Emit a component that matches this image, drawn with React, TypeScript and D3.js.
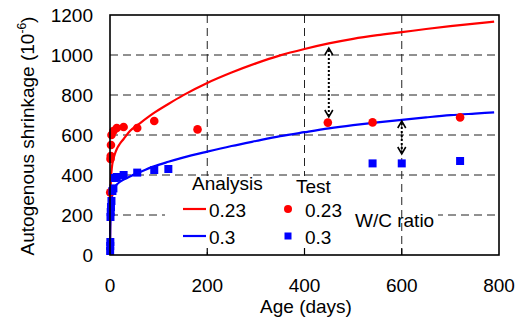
import React from "react";
import * as d3 from "d3";

// analysis curves (age in days, shrinkage in 1e-6)
const analysisAges = [0, 0.5, 1, 2, 4, 7, 10, 14, 20, 28, 41, 60, 89, 120, 150, 200, 250, 300, 350, 400, 450, 500, 550, 600, 650, 700, 750, 790];
const analysis023 = [0, 200, 300, 380, 440, 480, 505, 530, 555, 580, 620, 656, 708, 755, 798, 860, 912, 958, 998, 1030, 1058, 1081, 1099, 1114, 1130, 1144, 1157, 1167];
const analysis030 = [0, 120, 180, 240, 290, 320, 340, 352, 365, 377, 393, 413, 442, 466, 487, 517, 545, 570, 594, 614, 633, 649, 663, 676, 688, 699, 707, 713];

// test results
const testAges023 = [0.5, 1, 1.5, 2, 3, 7, 14, 28, 56, 91, 180, 448, 540, 720];
const test023 = [313, 480, 495, 550, 600, 620, 635, 640, 635, 670, 628, 662, 663, 688];
const testAges030 = [0.3, 0.5, 0.7, 1, 1.5, 2, 3, 5, 7, 10, 14, 28, 56, 91, 120, 540, 600, 720];
const test030 = [20, 45, 65, 190, 215, 240, 270, 320, 333, 385, 390, 400, 412, 425, 430, 458, 458, 470];

// difference arrows
const arrowAges = [450, 600];
const arrowTops = [1035, 670];
const arrowBottoms = [690, 505];

const xTicks = [0, 200, 400, 600, 800];
const yTicks = [0, 200, 400, 600, 800, 1000, 1200];

const font = "'Liberation Sans', Arial, sans-serif";

export default function App() {
  const left = 110,
    right = 499,
    top = 15,
    bottom = 255;

  const x = d3.scaleLinear().domain([0, 800]).range([left, right]);
  const y = d3.scaleLinear().domain([0, 1200]).range([bottom, top]);

  const line = d3
    .line<[number, number]>()
    .x((d) => x(d[0]))
    .y((d) => y(d[1]))
    .curve(d3.curveMonotoneX);

  const path023 = line(analysisAges.map((a, i) => [a, analysis023[i]]));
  const path030 = line(analysisAges.map((a, i) => [a, analysis030[i]]));

  // legend box area (hides grid behind it)
  const legendTop = 176;

  return (
    <svg
      width={522}
      height={320}
      style={{ position: "absolute", left: 0, top: 0, background: "#fff" }}
      fontFamily={font}
    >
      {/* horizontal grid */}
      <g>
        {yTicks
          .filter((t) => t > 0 && t < 1200)
          .map((t) => (
            <line
              key={"h" + t}
              x1={left}
              x2={right}
              y1={y(t)}
              y2={y(t)}
              stroke="#222"
              strokeWidth={1}
              strokeDasharray="8,5"
            />
          ))}
      </g>
      {/* W/C ratio background */}
      <rect x={350} y={legendTop} width={88} height={76} fill="#fff" />
      {/* vertical grid */}
      <g>
        {xTicks
          .filter((t) => t > 0 && t < 800)
          .map((t) => (
            <line
              key={"v" + t}
              x1={x(t)}
              x2={x(t)}
              y1={top}
              y2={bottom}
              stroke="#222"
              strokeWidth={1}
              strokeDasharray="8,5"
            />
          ))}
      </g>
      {/* legend background */}
      <rect x={165} y={legendTop} width={185} height={76} fill="#fff" />

      {/* ticks */}
      <g stroke="#000" strokeWidth={1.2}>
        {xTicks
          .filter((t) => t > 0 && t < 800)
          .map((t) => (
            <line key={"xt" + t} x1={x(t)} x2={x(t)} y1={bottom} y2={bottom - 7} />
          ))}
      </g>

      {/* curves */}
      <path d={path023 || ""} fill="none" stroke="#ff0000" strokeWidth={2.2} />
      <path d={path030 || ""} fill="none" stroke="#0000ff" strokeWidth={2.2} />

      {/* test points */}
      <g fill="#ff0000">
        {testAges023.map((a, i) => (
          <circle key={"r" + i} cx={x(a)} cy={y(test023[i])} r={4.3} />
        ))}
      </g>
      <g fill="#0000ff">
        {testAges030.map((a, i) => (
          <rect key={"b" + i} x={x(a) - 4} y={y(test030[i]) - 4} width={8} height={8} />
        ))}
      </g>

      {/* arrows */}
      <g stroke="#000" fill="none" strokeWidth={2}>
        {arrowAges.map((a, i) => {
          const ax = x(a),
            y1 = y(arrowTops[i]),
            y2 = y(arrowBottoms[i]);
          return (
            <g key={"a" + i}>
              <line x1={ax} x2={ax} y1={y1 + 2} y2={y2 - 2} strokeDasharray="2,2" />
              <path d={`M${ax - 4},${y1 + 7} L${ax},${y1} L${ax + 4},${y1 + 7}`} strokeWidth={1.6} />
              <path d={`M${ax - 4},${y2 - 7} L${ax},${y2} L${ax + 4},${y2 - 7}`} strokeWidth={1.6} />
            </g>
          );
        })}
      </g>

      {/* frame */}
      <rect x={left} y={top} width={right - left} height={bottom - top} fill="none" stroke="#000" strokeWidth={1.6} />

      {/* axis labels */}
      <g fontSize={19} fill="#000">
        {yTicks.map((t) => (
          <text key={"yl" + t} x={93} y={y(t)} dy="0.36em" textAnchor="end">
            {t}
          </text>
        ))}
        {xTicks.map((t) => (
          <text key={"xl" + t} x={x(t)} y={292} textAnchor="middle">
            {t}
          </text>
        ))}
        <text x={306} y={313} textAnchor="middle">
          Age (days)
        </text>
        <text transform="translate(34,136) rotate(-90)" textAnchor="middle">
          Autogenous shrinkage (10
          <tspan fontSize={12} dy={-8}>
            -6
          </tspan>
          <tspan dy={8}>)</tspan>
        </text>
      </g>

      {/* legend */}
      <g fontSize={19} fill="#000">
        <text x={192} y={190}>Analysis</text>
        <text x={296} y={193}>Test</text>
        <line x1={183} x2={206} y1={209} y2={209} stroke="#ff0000" strokeWidth={2.2} />
        <text x={209} y={217}>0.23</text>
        <line x1={183} x2={206} y1={236} y2={236} stroke="#0000ff" strokeWidth={2.2} />
        <text x={209} y={244}>0.3</text>
        <circle cx={288} cy={209} r={4} fill="#ff0000" />
        <text x={305} y={217}>0.23</text>
        <rect x={284.5} y={232.5} width={7} height={7} fill="#0000ff" />
        <text x={305} y={244}>0.3</text>
        <text x={355} y={227}>W/C ratio</text>
      </g>
    </svg>
  );
}
